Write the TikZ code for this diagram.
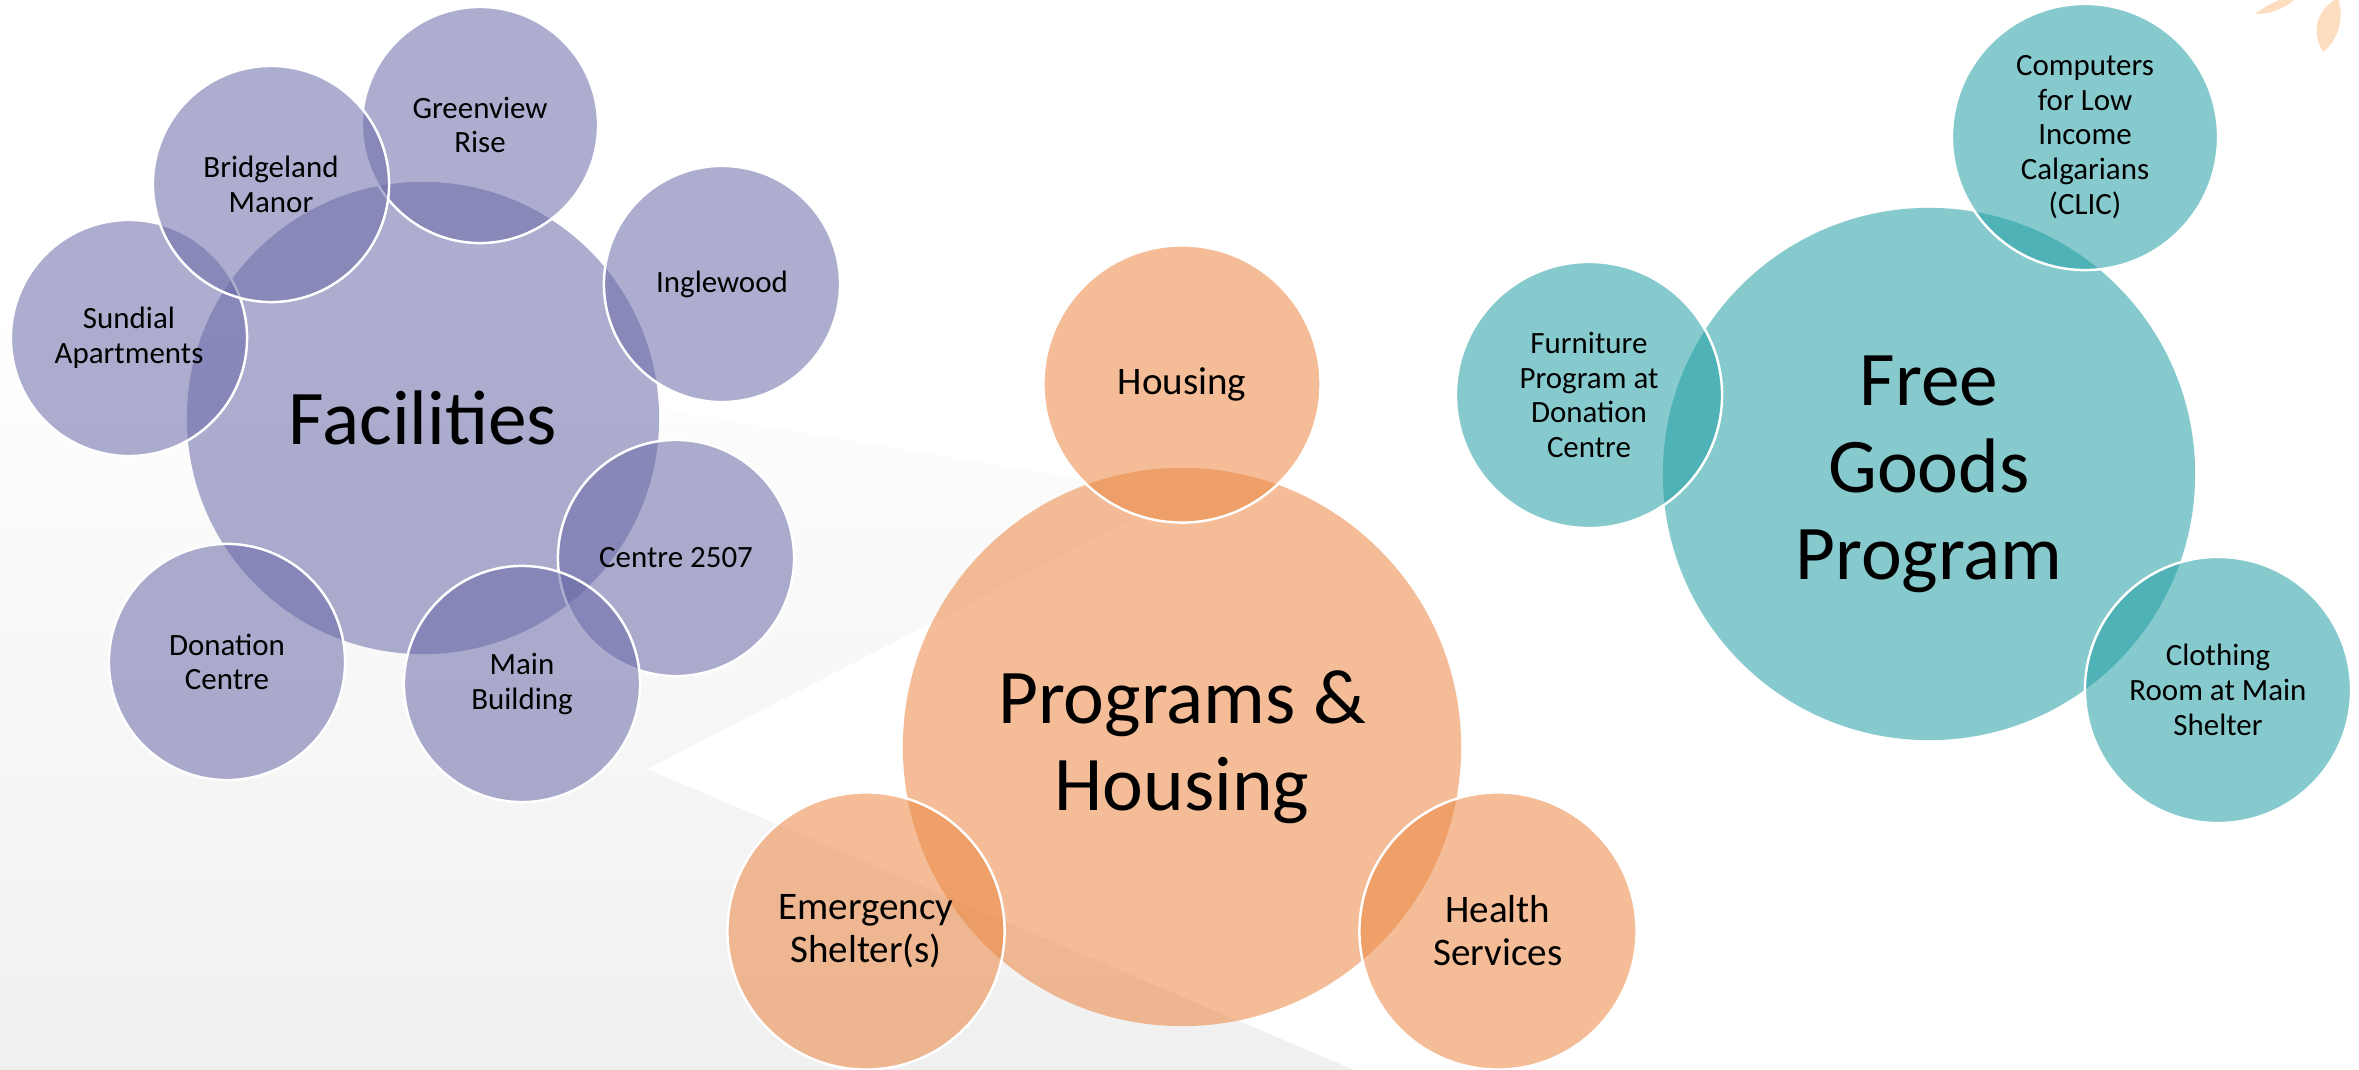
\documentclass[tikz,border=0pt]{standalone}
\usepackage{fontspec}
\setmainfont{Carlito}
\usetikzlibrary{positioning}

\definecolor{facil}{RGB}{106,106,168}
\definecolor{prog}{RGB}{235,135,66}
\definecolor{goods}{RGB}{35,159,164}
\definecolor{leaf}{RGB}{252,221,192}

\newcommand{\hubfont}{\fontsize{22}{24.7}\selectfont}
\newcommand{\satfont}{\fontsize{8.8}{9.9}\selectfont}
\newcommand{\progfont}{\fontsize{11.1}{12.2}\selectfont}

\begin{document}
\begin{tikzpicture}
[
    x=0.01cm, y=-0.01cm,
    % Hub circles are named H-fac, H-prog, H-goods
    % Satellite circles are named S-<group>-1 ... S-<group>-n
]

%=================================== Start ===================================
\tikzstyle{hub} = [circle, inner sep=0pt, outer sep=0pt, align=center,
    fill opacity=0.55, text opacity=1, font=\hubfont]
\tikzstyle{sat} = [circle, inner sep=0pt, outer sep=0pt, align=center,
    draw=white, line width=0.7pt, draw opacity=1,
    fill opacity=0.55, text opacity=1, font=\satfont]

\useasboundingbox (0,0) rectangle (2359,1070);
\fill[white] (0,0) rectangle (2359,1070);

% grey backdrop with the white wedge left open
\shade[top color=white, bottom color=gray!12]
    (0,300) -- (1180,495) -- (647,769) -- (1354,1070) -- (0,1070) -- cycle;
\fill[leaf] (2255,14) .. controls (2268,4) and (2285,-4) .. (2300,-6)
    .. controls (2290,6) and (2274,14) .. (2255,14) -- cycle;
\fill[leaf] (2323,52) .. controls (2311,32) and (2316,10) .. (2338,-2)
    .. controls (2344,18) and (2340,38) .. (2323,52) -- cycle;

{
    % Hubs
    \node[hub, fill=facil, minimum size=4.72cm] (H-fac) at (423,418) {Facilities};
    \node[hub, fill=prog, minimum size=5.58cm] (H-prog) at (1182,747) {Programs \&\\Housing};
    \node[hub, fill=goods, minimum size=5.32cm] (H-goods) at (1929,474) {Free\\Goods\\Program};

    % Facilities satellites
    \foreach \i / \x / \y / \txt in {1/480/125/{Greenview\\Rise}, 2/722/284/{Inglewood},
            3/676/558/{Centre 2507}, 4/522/684/{Main\\Building}, 5/227/662/{Donation\\Centre},
            6/129/338/{Sundial\\Apartments}, 7/271/184/{Bridgeland\\Manor}}
        \node[sat, fill=facil, minimum size=2.36cm] (S-fac-\i) at (\x,\y) {\txt};

    % Programs & Housing satellites
    \foreach \i / \x / \y / \txt in {1/1182/384/{Housing}, 2/1498/931/{Health\\Services},
            3/866/931/{Emergency\\Shelter(s)}}
        \node[sat, fill=prog, minimum size=2.77cm, font=\progfont] (S-prog-\i) at (\x,\y) {\txt};

    % Free Goods satellites
    \foreach \i / \x / \y / \txt in {1/2085/137/{Computers\\for Low\\Income\\Calgarians\\(CLIC)},
            2/2218/690/{Clothing\\Room at Main\\Shelter},
            3/1589/395/{Furniture\\Program at\\Donation\\Centre}}
        \node[sat, fill=goods, minimum size=2.66cm] (S-goods-\i) at (\x,\y) {\txt};
}
%==================================== END ====================================

\end{tikzpicture}
\end{document}
